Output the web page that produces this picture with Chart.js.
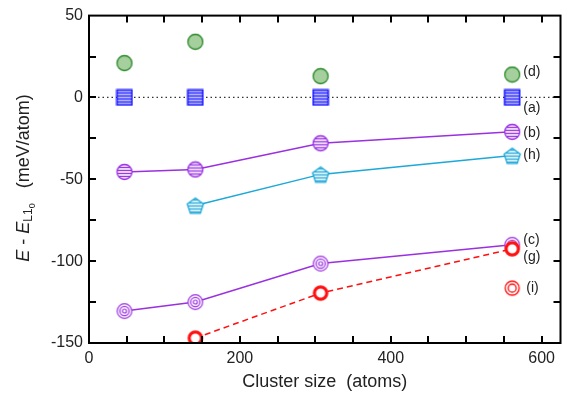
<!DOCTYPE html>
<html lang="en">
<head>
<meta charset="UTF-8">
<title>Cluster energy vs size</title>
<style>
  body { margin: 0; background: #fff; }
  #wrap { width: 566px; height: 395px; }
</style>
</head>
<body>
<div id="wrap"><canvas id="chart" width="566" height="395"></canvas></div>
<script src="https://cdn.jsdelivr.net/npm/chart.js"></script>
<script>
// cluster sizes (atoms)
const clusterSize = [47, 141, 307, 561];

// energies relative to L1_0 (meV/atom), null = no point
const seriesD = [21, 34, 13, 14];
const seriesA = [0, 0, 0, 0];
const seriesB = [-45.5, -44, -28, -21];
const seriesH = [null, -66, -47, -35.5];
const seriesC = [-130.5, -125, -101.5, -90];
const seriesG = [null, -147, -119.5, -92.5];
const seriesI = [null, null, null, -116.5];

const tags = ['(d)', '(a)', '(b)', '(h)', '(c)', '(g)', '(i)'];

const xTicks = [0, 200, 400, 600];
const yTicks = [-150, -100, -50, 0, 50];

const FONT = '"Liberation Sans", Arial, sans-serif';

// --- marker images ---
function icon(size, draw) {
    const c = document.createElement('canvas');
    c.width = size; c.height = size;
    const g = c.getContext('2d');
    draw(g, size / 2);
    return c;
}
function stripes(g, size, color, step) {
    g.strokeStyle = color;
    g.lineWidth = 1.2;
    for (let y = 1.5; y < size; y += step) {
        g.beginPath(); g.moveTo(0, y); g.lineTo(size, y); g.stroke();
    }
}
function pentagonPath(g, c, r) {
    g.beginPath();
    for (let i = 0; i < 5; i++) {
        const a = -Math.PI / 2 + i * 2 * Math.PI / 5;
        const px = c + r * Math.cos(a), py = c + 1 + r * Math.sin(a);
        i ? g.lineTo(px, py) : g.moveTo(px, py);
    }
    g.closePath();
}

const PURPLE = '#9a30e0';
const CYAN = '#1ea8d8';
const RED = '#ff1010';
const BLUE = '#1a1aff';

const mGreen = icon(18, (g, c) => {
    g.beginPath(); g.arc(c, c, 7.5, 0, Math.PI * 2);
    g.fillStyle = '#a6cf9e'; g.fill();
    g.strokeStyle = '#2a8a2a'; g.lineWidth = 1.3; g.stroke();
});
const mSquare = icon(18, (g, c) => {
    g.fillStyle = '#c4c4ff'; g.fillRect(1, 1, 16, 16);
    g.save(); g.beginPath(); g.rect(1, 1, 16, 16); g.clip();
    stripes(g, 18, BLUE, 3);
    g.restore();
    g.strokeStyle = BLUE; g.lineWidth = 1.6; g.strokeRect(1.5, 1.5, 15, 15);
});
const mStripeCircle = icon(18, (g, c) => {
    g.save(); g.beginPath(); g.arc(c, c, 7.5, 0, Math.PI * 2);
    g.fillStyle = '#ead8fb'; g.fill(); g.clip();
    stripes(g, 18, PURPLE, 3);
    g.restore();
    g.beginPath(); g.arc(c, c, 7.5, 0, Math.PI * 2);
    g.strokeStyle = PURPLE; g.lineWidth = 1.3; g.stroke();
});
const mPentagon = icon(20, (g, c) => {
    g.save(); pentagonPath(g, c, 8.5);
    g.fillStyle = '#d6eef8'; g.fill(); g.clip();
    stripes(g, 20, CYAN, 3);
    g.restore();
    pentagonPath(g, c, 8.5);
    g.strokeStyle = CYAN; g.lineWidth = 1.3; g.stroke();
});
const mTarget = icon(18, (g, c) => {
    g.fillStyle = '#fff';
    g.beginPath(); g.arc(c, c, 7.5, 0, Math.PI * 2); g.fill();
    g.strokeStyle = PURPLE; g.lineWidth = 1.2;
    [7.3, 4.6, 2].forEach(r => { g.beginPath(); g.arc(c, c, r, 0, Math.PI * 2); g.stroke(); });
});
const mRing = icon(18, (g, c) => {
    g.beginPath(); g.arc(c, c, 6.2, 0, Math.PI * 2);
    g.fillStyle = '#fff'; g.fill();
    g.strokeStyle = RED; g.lineWidth = 3.2; g.stroke();
});
const mDouble = icon(18, (g, c) => {
    g.fillStyle = '#fff';
    g.beginPath(); g.arc(c, c, 7.5, 0, Math.PI * 2); g.fill();
    g.strokeStyle = RED; g.lineWidth = 1.3;
    [7, 4].forEach(r => { g.beginPath(); g.arc(c, c, r, 0, Math.PI * 2); g.stroke(); });
});

function pts(vals) {
    return clusterSize.map((x, i) => ({ x: x, y: vals[i] })).filter(p => p.y !== null);
}

function ds(vals, img, lineColor, dashed, order) {
    return {
        data: pts(vals),
        pointStyle: img,
        showLine: !!lineColor,
        borderColor: lineColor || 'transparent',
        borderWidth: 1.5,
        borderDash: dashed ? [6, 4] : [],
        order: order
    };
}

const datasets = [
    ds(seriesD, mGreen, null, false, 7),
    ds(seriesA, mSquare, null, false, 6),
    ds(seriesB, mStripeCircle, PURPLE, false, 5),
    ds(seriesH, mPentagon, CYAN, false, 4),
    ds(seriesC, mTarget, PURPLE, false, 3),
    ds(seriesG, mRing, RED, true, 2),
    ds(seriesI, mDouble, null, false, 1)
];

// label offsets from the last point of each series (dx, dy)
const tagOffset = [[11, -2], [11, 11], [11, 1], [11, 0], [11, -5], [11, 8], [14, 0]];

const framePlugin = {
    id: 'frame',
    beforeDatasetsDraw(chart) {
        const { ctx, chartArea: a, scales } = chart;
        const y0 = scales.y.getPixelForValue(0);
        ctx.save();
        ctx.strokeStyle = '#333';
        ctx.lineWidth = 1.2;
        ctx.setLineDash([1.5, 3]);
        ctx.beginPath(); ctx.moveTo(a.left, y0); ctx.lineTo(a.right, y0); ctx.stroke();
        ctx.restore();
    },
    afterDraw(chart) {
        const { ctx, chartArea: a, scales } = chart;
        const L = 7;
        ctx.save();
        ctx.strokeStyle = '#000';
        ctx.lineWidth = 2;
        ctx.strokeRect(a.left, a.top, a.right - a.left, a.bottom - a.top);
        ctx.beginPath();
        for (let v = 50; v < 625; v += 50) {
            const x = Math.round(scales.x.getPixelForValue(v));
            ctx.moveTo(x, a.bottom); ctx.lineTo(x, a.bottom - L);
            ctx.moveTo(x, a.top); ctx.lineTo(x, a.top + L);
        }
        for (let v = -125; v < 50; v += 25) {
            const y = Math.round(scales.y.getPixelForValue(v));
            ctx.moveTo(a.left, y); ctx.lineTo(a.left + L, y);
            ctx.moveTo(a.right, y); ctx.lineTo(a.right - L, y);
        }
        ctx.stroke();

        // series tags
        ctx.fillStyle = '#222';
        ctx.font = '14px ' + FONT;
        ctx.textBaseline = 'middle';
        ctx.textAlign = 'left';
        chart.data.datasets.forEach((d, i) => {
            const meta = chart.getDatasetMeta(i);
            const last = meta.data[meta.data.length - 1];
            ctx.fillText(tags[i], last.x + tagOffset[i][0], last.y + tagOffset[i][1]);
        });

        // axis titles
        ctx.font = '18px ' + FONT;
        ctx.textAlign = 'center';
        ctx.fillText('Cluster size  (atoms)', (a.left + a.right) / 2, 382);

        ctx.save();
        ctx.translate(24, 178);
        ctx.rotate(-Math.PI / 2);
        ctx.textAlign = 'left';
        const parts = [
            ['italic 18px ' + FONT, 'E', 0],
            ['18px ' + FONT, ' - ', 0],
            ['italic 18px ' + FONT, 'E', 0],
            ['12px ' + FONT, 'L1', 5],
            ['9px ' + FONT, '0', 9],
            ['18px ' + FONT, '   (meV/atom)', 0]
        ];
        let w = 0;
        parts.forEach(p => { ctx.font = p[0]; w += ctx.measureText(p[1]).width; });
        let x = -w / 2;
        parts.forEach(p => {
            ctx.font = p[0];
            ctx.fillText(p[1], x, p[2]);
            x += ctx.measureText(p[1]).width;
        });
        ctx.restore();
        ctx.restore();
    }
};

new Chart(document.getElementById('chart'), {
    type: 'scatter',
    data: { datasets: datasets },
    options: {
        responsive: false,
        animation: false,
        events: [],
        layout: { padding: { top: 15, right: 4, left: 0, bottom: 0 } },
        plugins: { legend: { display: false }, tooltip: { enabled: false } },
        scales: {
            x: {
                type: 'linear',
                min: 0, max: 625,
                grid: { display: false, drawTicks: false },
                border: { display: false },
                afterBuildTicks: s => { s.ticks = xTicks.map(v => ({ value: v })); },
                afterFit: s => { s.height = 52; },
                ticks: { color: '#222', padding: 6, maxRotation: 0, font: { family: FONT, size: 16 } }
            },
            y: {
                type: 'linear',
                min: -150, max: 50,
                grid: { display: false, drawTicks: false },
                border: { display: false },
                afterBuildTicks: s => { s.ticks = yTicks.map(v => ({ value: v })); },
                afterFit: s => { s.width = 89; },
                ticks: { color: '#222', padding: 6, font: { family: FONT, size: 16 } }
            }
        }
    },
    plugins: [framePlugin]
});
</script>
</body>
</html>
